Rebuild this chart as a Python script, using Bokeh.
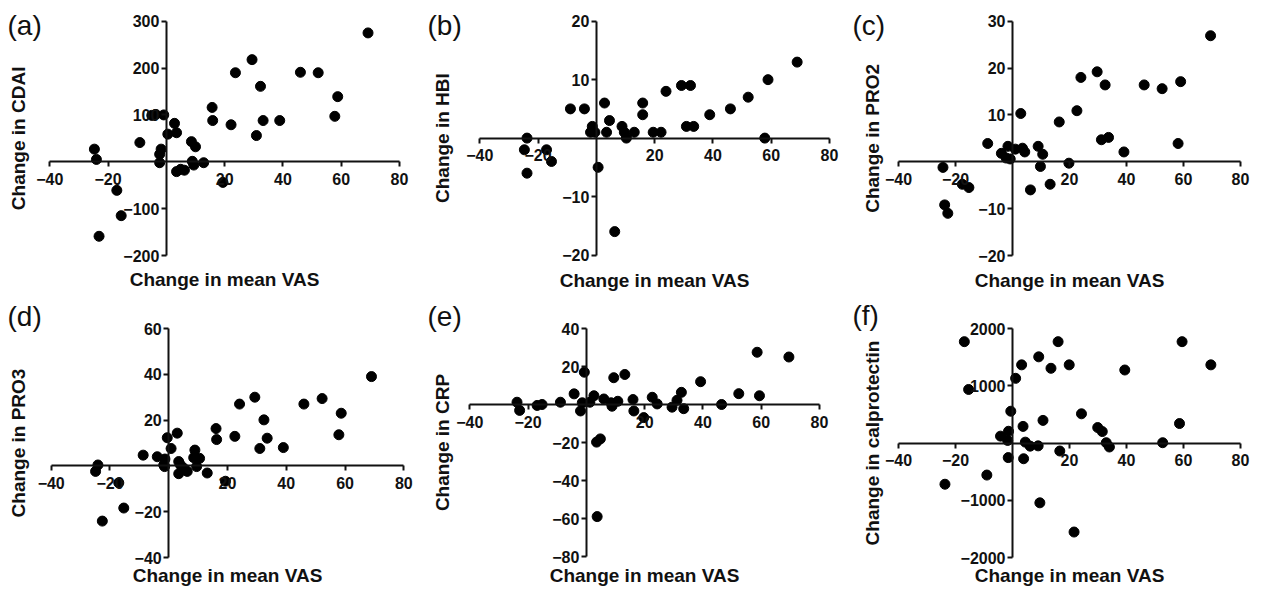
import math
from bokeh.plotting import figure
from bokeh.models import LinearAxis, FixedTicker, Range1d, Label
from bokeh.layouts import column, row
from bokeh.embed import file_html
from bokeh.resources import INLINE

# ---------------- data ----------------
x_lim = (-40, 80)
x_ticks = [-40, -20, 20, 40, 60, 80]
x_label = "Change in mean VAS"

vas_a = [69.2, 29.4, 23.7, 46, 52.1, 32.3, 58.8, 57.8, 15.7, 15.9, 22.2, 33.2, 38.9, 30.9,
         -5, -3.6, -0.9, 2.8, 0.5, 3.5, -9.1, 8.6, 10, -24.7, -24, -1.8, -2.3, -2.3, 8.9,
         9.4, 12.8, 3.5, 4.9, 6.2, 19.4, -17, -15.5, -23.1]
cdai = [275, 218, 190, 191, 190, 161, 139, 97, 116, 88, 79, 88, 88, 56,
        99, 101, 100, 82, 59, 62, 41, 43, 32, 27, 5, 27, 16, -2, 1,
        -7, -2, -21, -16, -18, -44, -61, -115, -159]

vas_b = [68.9, 58.9, 57.8, 52.1, 46, 38.9, 29.2, 32.3, 30.9, 33.4, 23.9, 15.9, 15.9, 19.5,
         22.2, 13, 8.8, 9.6, 10.3, 2.8, 4.5, 3.5, -1.4, -2, -0.5, -8.9, -4.1, 0.6, 6.3,
         -23.8, -24.7, -17.1, -15.4, -23.8]
hbi = [13, 10, 0, 7, 5, 4, 9, 9, 2, 2, 8, 6, 4, 1,
       1, 1, 2, 1, 0, 6, 3, 1, 2, 1, 1, 5, 5, -5, -16,
       0, -2, -2, -4, -6]

vas_c = [69.5, 29.7, 24, 32.5, 46.2, 52.5, 59, 22.6, 16.4, 2.9, 31.2, 33.7, 58.1, 39.1,
         19.8, -8.7, -1.6, -3.9, -2.2, -0.8, 1, 3.5, 4.3, 9, 10.6, 9.8, 13.2, 6.3,
         -17.6, -15.3, -24.4, -23.8, -22.7]
pro2 = [26.9, 19.2, 18, 16.4, 16.4, 15.6, 17.1, 10.9, 8.5, 10.3, 4.7, 5.2, 3.9, 2.1,
        -0.3, 3.9, 3.3, 1.8, 0.8, 0.6, 2.7, 2.9, 2.1, 3.3, 1.6, -1, -4.8, -6,
        -4.8, -5.5, -1.2, -9.2, -11]

vas_d = [69, 29.3, 24.1, 46, 52.2, 58.7, 57.9, 32.4, 33.5, 31, 39, 22.5, 16.1, 16.3,
         -8.7, -0.5, 2.9, 0.8, -3.9, -1.3, -1.7, -1.4, 8.9, 8.5, 10.5, 9.5, 3.4, 4,
         5.1, 3.4, 6.3, 13.1, 19.3, -24.1, -24.9, -17, -15.3, -22.6]
pro3 = [39, 30, 27, 27, 29.4, 23, 13.6, 20.1, 12.1, 7.6, 8, 12.9, 16.3, 11.5,
        4.7, 12.3, 14.3, 7.6, 4, 3, 0.4, -0.3, 6.9, 3.6, 3.3, -0.3, 1.9, 0.4,
        -1, -3.4, -2.4, -3.1, -6.7, 0.4, -2.4, -7.4, -18.4, -24.1]

vas_e = [69.5, 58.6, 59.4, 52.3, 46.4, 39.2, 32.6, 31.1, 33.4, 29.4, 22.6, 24.3, 19.7, 16,
         16.3, 13.2, 9.4, -0.7, -4.2, -8.9, 2.6, -1.4, 1.2, -2, 6, 8.5, 8.8, 10.8,
         -23.8, -22.9, -16.9, -15.2, 3.5, 4.8, 3.7]
crp = [25, 27.5, 4.6, 5.7, 0, 12, 6.4, 2.2, -2.2, -1.4, 3.8, 0.3, -6.9, 2.6,
       -3.4, 15.8, 14.1, 17, 5.6, 1.2, 4.6, 0.9, 1.2, -3.4, 2.9, 0.9, -0.9, 1.7,
       1.2, -3.1, -0.5, 0, -19.8, -18.1, -59]

vas_f = [-16.9, -15.4, 59.5, 16, 9.2, 3.2, 13.5, 19.9, 39.4, 69.6, 1.1, -0.6, 24.2, 10.7,
         3.7, 29.9, 31.5, 58.6, 32.9, 34, 52.7, -4.2, -1.4, -1.7, 4.5, 6.2, 9, 16.6,
         -1.5, 3.9, -9, -23.7, 9.6, 21.6]
calpro = [1770, 935, 1770, 1770, 1505, 1365, 1305, 1365, 1275, 1365, 1130, 555, 510, 395,
          290, 270, 200, 340, 5, -70, 5, 120, 205, 45, 15, -55, -50, -140,
          -255, -275, -560, -720, -1045, -1555]

panels = [
    dict(tag="(a)", x=vas_a, y=cdai, ylabel="Change in CDAI", ylim=(-200, 300),
         yticks=[-200, -100, 100, 200, 300]),
    dict(tag="(b)", x=vas_b, y=hbi, ylabel="Change in HBI", ylim=(-20, 20),
         yticks=[-20, -10, 10, 20]),
    dict(tag="(c)", x=vas_c, y=pro2, ylabel="Change in PRO2", ylim=(-20, 30),
         yticks=[-20, -10, 10, 20, 30]),
    dict(tag="(d)", x=vas_d, y=pro3, ylabel="Change in PRO3", ylim=(-40, 60),
         yticks=[-40, -20, 20, 40, 60]),
    dict(tag="(e)", x=vas_e, y=crp, ylabel="Change in CRP", ylim=(-80, 40),
         yticks=[-80, -60, -40, -20, 20, 40]),
    dict(tag="(f)", x=vas_f, y=calpro, ylabel="Change in calprotectin", ylim=(-2000, 2000),
         yticks=[-2000, -1000, 1000, 2000]),
]

# ---------------- layout, in picture pixels ----------------
# canvas (x0, y0, w, h); axis ends: px of x=-40, x=80, py of y max, y min;
# x-title anchor (centre x, y); y-title anchor x; tag (left x, centre y)
geo = [
    dict(cv=(0, 0, 425, 296), ax=(49.3, 399.0, 20.7, 255.0), xl=(224, 279), yl=18, tag=(7, 25)),
    dict(cv=(425, 0, 425, 296), ax=(479.3, 829.0, 20.7, 254.5), xl=(654, 280), yl=442, tag=(427, 25)),
    dict(cv=(850, 0, 400, 296), ax=(898.0, 1240.0, 20.7, 255.0), xl=(1069, 280), yl=872, tag=(852, 25)),
    dict(cv=(0, 296, 425, 291), ax=(50.7, 403.3, 328.0, 557.0), xl=(227, 575), yl=18, tag=(7, 316)),
    dict(cv=(425, 296, 425, 291), ax=(469.3, 819.0, 328.0, 556.0), xl=(644, 575), yl=442, tag=(427, 316)),
    dict(cv=(850, 296, 400, 291), ax=(898.0, 1240.0, 328.0, 557.0), xl=(1069, 575), yl=872, tag=(852, 315)),
]

FONT = "Liberation Sans"
INK = "#111111"


def make_panel(cfg, g):
    cx0, cy0, w, h = g["cv"]
    pxl, pxr, pyt, pyb = g["ax"]
    ymin, ymax = cfg["ylim"]
    sx = (pxr - pxl) / (x_lim[1] - x_lim[0])
    sy = (pyb - pyt) / (ymax - ymin)
    xs = x_lim[0] - (pxl - cx0) / sx
    ye = ymax + (pyt - cy0) / sy

    p = figure(width=w, height=h, x_range=Range1d(xs, xs + w / sx),
               y_range=Range1d(ye - h / sy, ye),
               x_axis_location=None, y_axis_location=None, toolbar_location=None,
               output_backend="svg", min_border=0)
    p.outline_line_color = None
    p.grid.visible = False
    p.background_fill_color = "white"
    p.border_fill_color = "white"

    def style_axis(ax):
        ax.axis_line_width = 2
        ax.axis_line_color = INK
        ax.major_tick_line_width = 2
        ax.major_tick_line_color = INK
        ax.major_tick_out = 5
        ax.major_tick_in = 0
        ax.minor_tick_line_color = None
        ax.major_label_text_font = FONT
        ax.major_label_text_font_style = "bold"
        ax.major_label_text_font_size = "16px"
        ax.major_label_text_color = INK

    xa = LinearAxis(fixed_location=0, ticker=FixedTicker(ticks=x_ticks), bounds=x_lim)
    style_axis(xa)
    xa.major_label_standoff = 6
    p.add_layout(xa, "below")

    ya = LinearAxis(fixed_location=0, ticker=FixedTicker(ticks=cfg["yticks"]),
                    bounds=cfg["ylim"])
    style_axis(ya)
    ya.major_label_standoff = 2
    p.add_layout(ya, "left")

    p.scatter(cfg["x"], cfg["y"], size=10, color="black")

    def screen(ax_, ay_):
        return ax_ - cx0, (cy0 + h) - ay_

    # x-axis title
    lx, ly = screen(*g["xl"])
    p.add_layout(Label(x=lx, y=ly, x_units="screen", y_units="screen", text=x_label,
                       text_font=FONT, text_font_style="bold", text_font_size="19px",
                       text_color=INK, text_align="center", text_baseline="alphabetic"))
    # y-axis title
    lx, ly = screen(g["yl"], (pyt + pyb) / 2)
    p.add_layout(Label(x=lx, y=ly, x_units="screen", y_units="screen", text=cfg["ylabel"],
                       angle=math.pi / 2, text_font=FONT, text_font_style="bold",
                       text_font_size="19px", text_color=INK, text_align="center",
                       text_baseline="alphabetic"))
    # panel tag
    lx, ly = screen(*g["tag"])
    p.add_layout(Label(x=lx, y=ly, x_units="screen", y_units="screen", text=cfg["tag"],
                       text_font=FONT, text_font_size="28px", text_color=INK,
                       text_align="left", text_baseline="middle"))
    return p


figs = [make_panel(c, g) for c, g in zip(panels, geo)]
layout = column(row(*figs[:3]), row(*figs[3:]))

open("out.html", "w").write(file_html(layout, INLINE))
